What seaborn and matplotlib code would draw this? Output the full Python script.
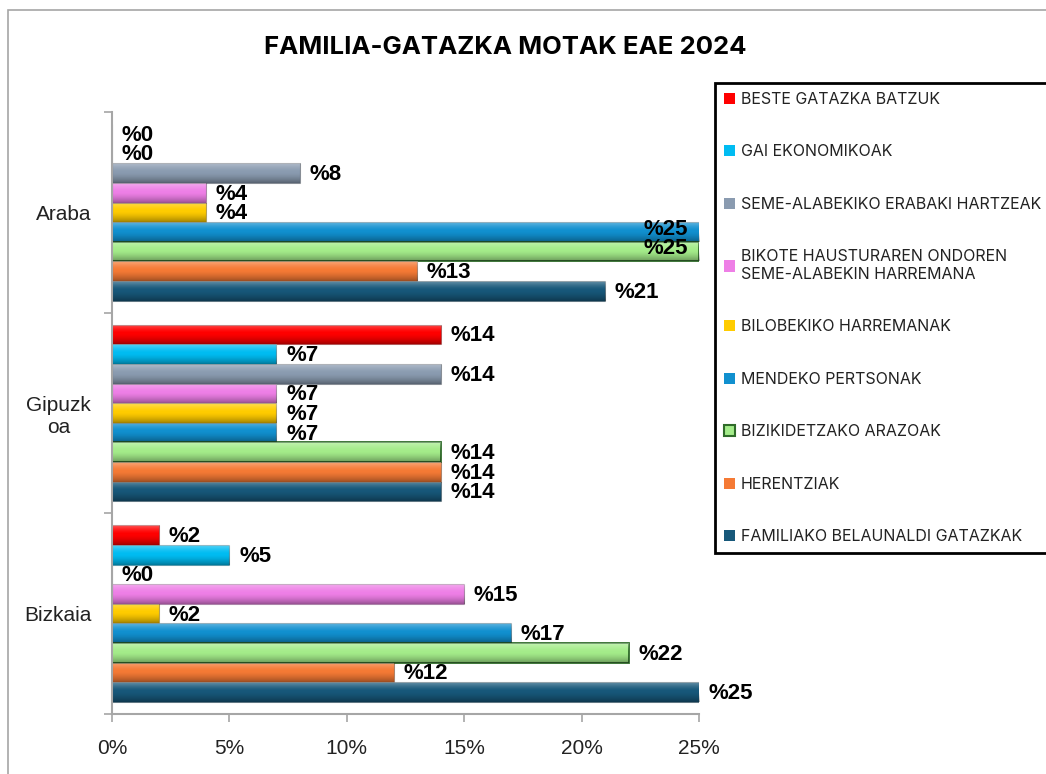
import seaborn as sns
import matplotlib.pyplot as plt
import matplotlib
from matplotlib.patches import Patch, Rectangle
from matplotlib.ticker import FuncFormatter, FixedLocator
import numpy as np
import pandas as pd

## Data (percent)
regions = ["Araba", "Gipuzkoa", "Bizkaia"]
region_labels = ["Araba", "Gipuzk\noa", "Bizkaia"]
categories = [
    "BESTE GATAZKA BATZUK",
    "GAI EKONOMIKOAK",
    "SEME-ALABEKIKO ERABAKI HARTZEAK",
    "BIKOTE HAUSTURAREN ONDOREN\nSEME-ALABEKIN HARREMANA",
    "BILOBEKIKO HARREMANAK",
    "MENDEKO PERTSONAK",
    "BIZIKIDETZAKO ARAZOAK",
    "HERENTZIAK",
    "FAMILIAKO BELAUNALDI GATAZKAK",
]
araba = [0, 0, 8, 4, 4, 25, 25, 13, 21]
gipuzkoa = [14, 7, 14, 7, 7, 7, 14, 14, 14]
bizkaia = [2, 5, 0, 15, 2, 17, 22, 12, 25]
x_ticks = [0, 5, 10, 15, 20, 25]

colors = ["#FF0000", "#00BCF2", "#8A9BB0", "#EE7FE6", "#FFCC00",
          "#1190CF", "#A4EC8A", "#F57A35", "#17587A"]
green_edge = "#2F6B2A"

df = pd.DataFrame({
    "region": [r for r in regions for _ in categories],
    "category": categories * len(regions),
    "value": araba + gipuzkoa + bizkaia,
})

plt.rcParams["font.family"] = ["Liberation Sans", "DejaVu Sans"]

fig = plt.figure(figsize=(10.46, 7.74), dpi=100)
ax = fig.add_axes([112 / 1046, 1 - 714 / 774, (699 - 112) / 1046, (714 - 112) / 774])

sns.barplot(data=df, y="region", x="value", hue="category", order=regions,
            hue_order=categories, palette=colors, orient="h", width=0.88,
            legend=False, ax=ax, saturation=1)

ax.set_xlim(0, 25)
ax.set_ylim(2.5, -0.5)

# cylinder-ish shading: light on top, dark at bottom
n = 64
t = np.linspace(0, 1, n)
shade = np.zeros((n, 1, 4))
shade[:, 0, :3] = np.where(t[:, None] < 0.45, 1.0, 0.0)
shade[:, 0, 3] = np.where(t < 0.45, 0.35 * (1 - t / 0.45) ** 1.5, 0.35 * ((t - 0.45) / 0.55) ** 1.5)

# legend area in data y (bars above this would push labels into the legend)
legend_bottom_y = -0.5 + (577 - 112) / (714 - 112) * 3

for cat, cont in zip(categories, ax.containers):
    for bar in cont:
        if cat == "BIZIKIDETZAKO ARAZOAK":
            bar.set_edgecolor(green_edge)
            bar.set_linewidth(1.3)
        else:
            bar.set_edgecolor(matplotlib.colors.to_rgba("#000000", 0.3))
            bar.set_linewidth(0.8)
        w = bar.get_width()
        y0 = bar.get_y()
        h = bar.get_height()
        if w > 0:
            im = ax.imshow(shade, extent=[0, w, y0 + h, y0], aspect="auto",
                           interpolation="bilinear", zorder=bar.get_zorder() + 0.1)
            im.set_clip_path(bar)
        v = int(round(w))
        yc = y0 + h / 2
        if w > 23.4 and yc < legend_bottom_y:
            ax.annotate(f"%{v}", (w, yc), xytext=(-8, 2), textcoords="offset points",
                        ha="right", va="center", fontsize=16, fontweight="bold", zorder=5)
        else:
            ax.annotate(f"%{v}", (w, yc), xytext=(7, -1), textcoords="offset points",
                        ha="left", va="center", fontsize=16, fontweight="bold", zorder=5)

ax.set_xlim(0, 25)
ax.set_ylim(2.5, -0.5)
ax.xaxis.set_major_locator(FixedLocator(x_ticks))
ax.xaxis.set_major_formatter(FuncFormatter(lambda v, _: f"{v:.0f}%"))
ax.set_yticks(range(len(regions)))
ax.set_yticklabels(region_labels, multialignment="center")
ax.set_yticks([-0.5, 0.5, 1.5, 2.5], minor=True)
ax.set_xlabel("")
ax.set_ylabel("")

for side in ["top", "right"]:
    ax.spines[side].set_visible(False)
for side in ["left", "bottom"]:
    ax.spines[side].set_color("#A6A6A6")
    ax.spines[side].set_linewidth(1.5)
ax.tick_params(axis="x", length=6, color="#A6A6A6", width=1.2, labelsize=15, pad=12,
               labelcolor="#222222")
ax.tick_params(axis="y", which="major", length=0, labelsize=15, pad=15, labelcolor="#222222")
ax.tick_params(axis="y", which="minor", length=6, color="#A6A6A6", width=1.2)

fig.text(505 / 1046, 1 - 47 / 774, "FAMILIA-GATAZKA MOTAK EAE 2024",
         ha="center", va="center", fontsize=18.5, fontweight="bold",
         family=["Inter", "DejaVu Sans"])

# legend
handles = []
for cat, col in zip(categories, colors):
    if cat == "BIZIKIDETZAKO ARAZOAK":
        handles.append(Patch(facecolor=col, edgecolor=green_edge, linewidth=1.5))
    else:
        handles.append(Patch(facecolor=col, edgecolor="none"))
leg = fig.legend(handles, categories, loc="upper left",
                 bbox_to_anchor=(715 / 1046, 1 - 83 / 774),
                 prop={"family": ["Inter", "DejaVu Sans"], "size": 11.5},
                 labelspacing=2.35, handlelength=0.7, handleheight=0.7,
                 handletextpad=0.35, borderpad=0.55, borderaxespad=0,
                 frameon=True, fancybox=False, framealpha=1, labelcolor="#222222")
leg.get_frame().set_edgecolor("black")
leg.get_frame().set_linewidth(2)

# outer chart border
fig.patches.append(Rectangle((8 / 1046, -0.05), 1.1, 1 - 10 / 774 + 0.05,
                             transform=fig.transFigure, fill=False,
                             edgecolor="#A6A6A6", linewidth=1.2, zorder=-1))

fig.savefig("out.png", dpi=100)
